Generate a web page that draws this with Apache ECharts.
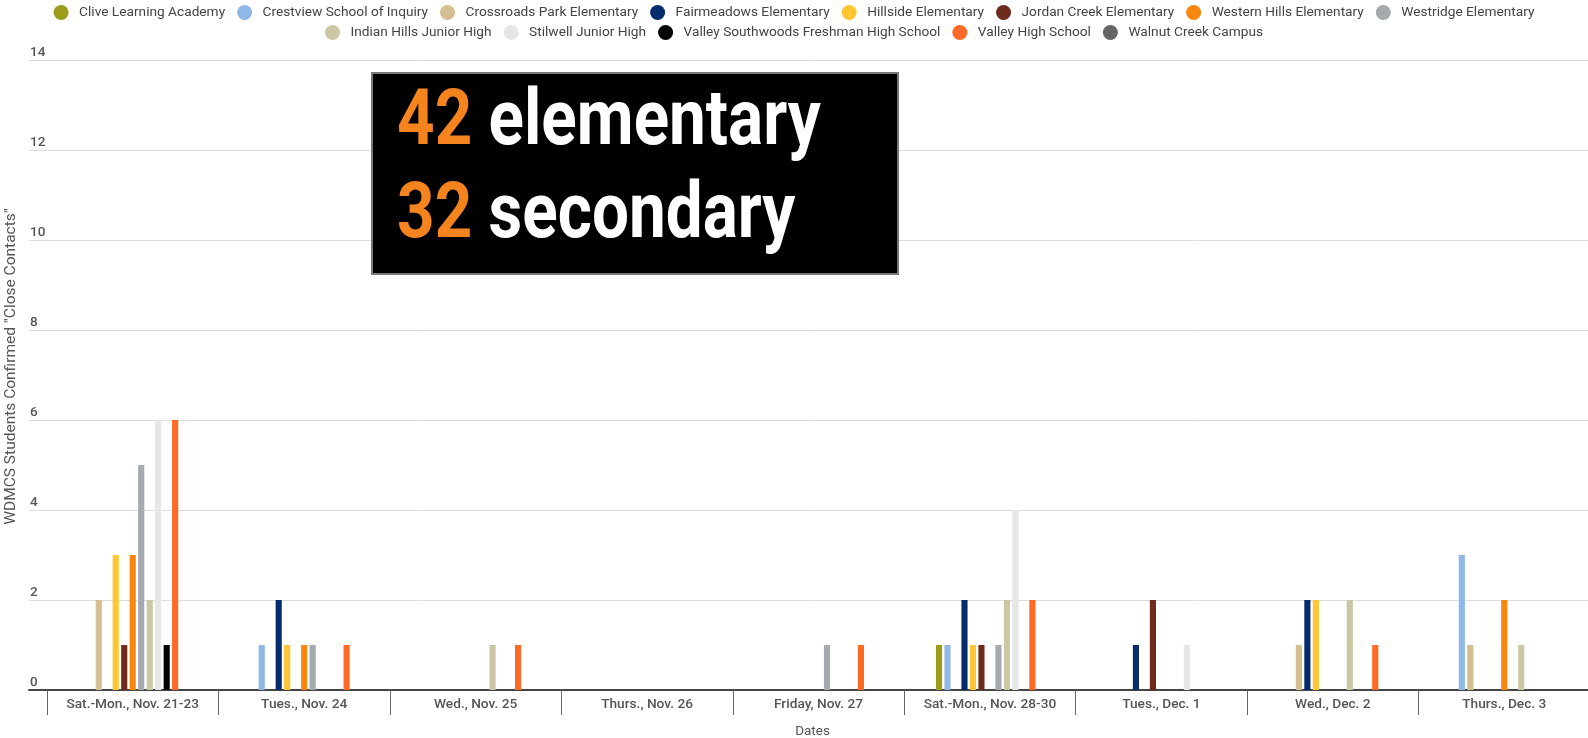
<!DOCTYPE html>
<html>
<head>
<meta charset="utf-8">
<script src="https://cdn.jsdelivr.net/npm/echarts@6/dist/echarts.min.js"></script>
<style>html,body{margin:0;padding:0;background:#fff;}#c{width:1588px;height:738px;}</style>
</head>
<body>
<div id="c"></div>
<script>
const categories = ['Sat.-Mon., Nov. 21-23','Tues., Nov. 24','Wed., Nov. 25','Thurs., Nov. 26','Friday, Nov. 27','Sat.-Mon., Nov. 28-30','Tues., Dec. 1','Wed., Dec. 2','Thurs., Dec. 3'];
const schools = ['Clive Learning Academy','Crestview School of Inquiry','Crossroads Park Elementary','Fairmeadows Elementary','Hillside Elementary','Jordan Creek Elementary','Western Hills Elementary','Westridge Elementary','Indian Hills Junior High','Stilwell Junior High','Valley Southwoods Freshman High School','Valley High School','Walnut Creek Campus'];
const clive            = [0,0,0,0,0,1,0,0,0];
const crestview        = [0,1,0,0,0,1,0,0,3];
const crossroads       = [2,0,0,0,0,0,0,1,1];
const fairmeadows      = [0,2,0,0,0,2,1,2,0];
const hillside         = [3,1,0,0,0,1,0,2,0];
const jordanCreek      = [1,0,0,0,0,1,2,0,0];
const westernHills     = [3,1,0,0,0,0,0,0,2];
const westridge        = [5,1,0,0,1,1,0,0,0];
const indianHills      = [2,0,1,0,0,2,0,2,1];
const stilwell         = [6,0,0,0,0,4,1,0,0];
const valleySouthwoods = [1,0,0,0,0,0,0,0,0];
const valleyHigh       = [6,1,1,0,1,2,0,1,0];
const walnutCreek      = [0,0,0,0,0,0,0,0,0];
const yTicks = {min: 0, max: 14, interval: 2};
const elementaryTotal = '42';
const secondaryTotal = '32';

const seriesValues = [clive,crestview,crossroads,fairmeadows,hillside,jordanCreek,westernHills,westridge,indianHills,stilwell,valleySouthwoods,valleyHigh,walnutCreek];
const palette = ['#9b9b1c','#8fb8e8','#d4be92','#062c6e','#fdc632','#6e2a1c','#f7870f','#a5aaae','#cbc7a5','#e6e6e6','#000000','#fd6a25','#666666'];

const chart = echarts.init(document.getElementById('c'), null, {renderer: 'canvas'});
const font = 'Roboto';
const legendCommon = {
  icon: 'circle', itemWidth: 26, itemHeight: 15, itemGap: 12, left: 'center',
  selectedMode: false, padding: 0,
  textStyle: {color: '#444', fontSize: 13.7, fontFamily: font}
};
const option = {
  animation: false,
  color: palette,
  textStyle: {fontFamily: font},
  legend: [
    Object.assign({}, legendCommon, {top: 5, data: schools.slice(0, 8)}),
    Object.assign({}, legendCommon, {top: 25, data: schools.slice(8)})
  ],
  grid: [
    {left: 47, top: 60, width: 1543, bottom: 48, containLabel: false, outerBoundsMode: 'none'},
    {left: 29, top: 60, right: 0, bottom: 48, containLabel: false, outerBoundsMode: 'none'}
  ],
  xAxis: [
    {
      type: 'category', gridIndex: 0, data: categories,
      name: 'Dates', nameLocation: 'middle', nameGap: 35,
      nameTextStyle: {color: '#555', fontSize: 13.5, fontFamily: font, padding: [0, 12, 0, 0]},
      axisLine: {lineStyle: {color: '#444', width: 2}},
      axisTick: {show: true, length: 25, alignWithLabel: false, lineStyle: {color: '#666', width: 1}},
      axisLabel: {color: '#555', fontSize: 13.7, fontWeight: 500, margin: 8, interval: 0, fontFamily: font}
    },
    {
      type: 'value', gridIndex: 1, min: 0, max: 1,
      axisLine: {show: true, lineStyle: {color: '#444', width: 2}},
      axisTick: {show: false}, axisLabel: {show: false}, splitLine: {show: false}
    }
  ],
  yAxis: [
    {
      type: 'value', gridIndex: 0, min: yTicks.min, max: yTicks.max, interval: yTicks.interval,
      axisLine: {show: false}, axisTick: {show: false}, axisLabel: {show: false}, splitLine: {show: false}
    },
    {
      type: 'value', gridIndex: 1, min: yTicks.min, max: yTicks.max, interval: yTicks.interval,
      name: 'WDMCS Students Confirmed "Close Contacts"', nameLocation: 'middle', nameRotate: 90, nameGap: 1,
      nameTextStyle: {color: '#555', fontSize: 15.5, fontFamily: font, padding: [0, 0, 0, 17]},
      axisLine: {show: false}, axisTick: {show: false},
      axisLabel: {inside: true, margin: 1, verticalAlign: 'bottom', padding: [0,0,0,0], color: '#555', fontSize: 13.5, fontWeight: 500, fontFamily: font},
      splitLine: {show: true, lineStyle: {color: '#dcdcdc', width: 1}}
    }
  ],
  series: schools.map((name, i) => ({
    name: name, type: 'bar', xAxisIndex: 0, yAxisIndex: 0,
    data: seriesValues[i],
    barGap: '38%', barCategoryGap: '37%',
    itemStyle: {color: palette[i]}
  })),
  graphic: [
    {type: 'rect', shape: {x: 372, y: 73, width: 526, height: 201}, style: {fill: '#000', stroke: '#777', lineWidth: 2}, z: 100},
    {type: 'text', x: 397, y: 125, scaleX: 0.852, z: 101,
     style: {text: '{n|' + elementaryTotal + '}{w| elementary}', verticalAlign: 'middle', align: 'left',
       rich: {n: {fill: '#f5841f', fontSize: 77, fontWeight: 'bold', fontFamily: font}, w: {fill: '#fff', fontSize: 77, fontWeight: 'bold', fontFamily: font}}}},
    {type: 'text', x: 397, y: 218, scaleX: 0.852, z: 101,
     style: {text: '{n|' + secondaryTotal + '}{w| secondary}', verticalAlign: 'middle', align: 'left',
       rich: {n: {fill: '#f5841f', fontSize: 77, fontWeight: 'bold', fontFamily: font}, w: {fill: '#fff', fontSize: 77, fontWeight: 'bold', fontFamily: font}}}}
  ]
};
chart.setOption(option);
</script>
</body>
</html>
